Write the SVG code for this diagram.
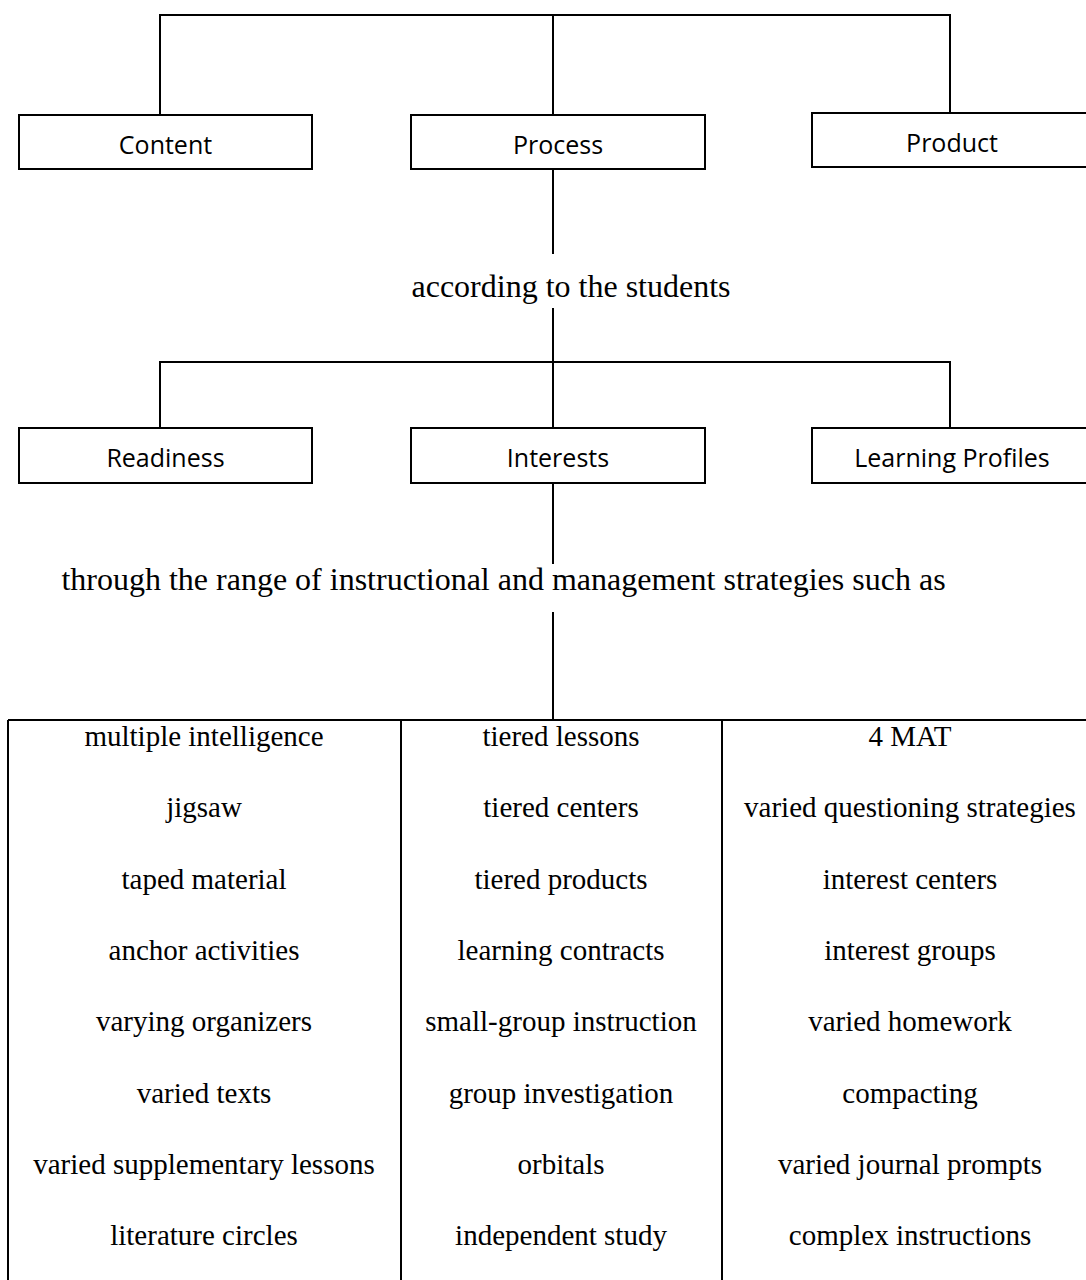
<svg xmlns="http://www.w3.org/2000/svg" width="1086" height="1280" viewBox="0 0 1086 1280">
<style>
.box{fill:#fff;stroke:#000;stroke-width:2}
.btxt{font-family:"Open Sans","Noto Sans",sans-serif;font-size:25px;fill:#000;text-anchor:middle}
.lbl{font-family:"Liberation Serif","Times New Roman",serif;font-size:32px;fill:#000;text-anchor:middle}
.cell{font-family:"Liberation Serif","Times New Roman",serif;font-size:29px;fill:#000;text-anchor:middle}
.con line, .con path{stroke:#000;stroke-width:2;fill:none}
.grid line{stroke:#000;stroke-width:2}
</style>
<rect width="1086" height="1280" fill="#fff"/>
<g id="connectors" class="con">
<path d="M160 115 V15 H950 V113"/>
<line x1="553" y1="15" x2="553" y2="115"/>
<line x1="553" y1="169" x2="553" y2="254"/>
<path d="M160 428 V362 H950 V428"/>
<line x1="553" y1="308" x2="553" y2="428"/>
<line x1="553" y1="483" x2="553" y2="564"/>
<line x1="553" y1="612" x2="553" y2="720"/>
</g>
<g id="content"><rect class="box" x="19" y="115" width="293" height="54"/><text class="btxt" x="165.5" y="154">Content</text></g>
<g id="process"><rect class="box" x="411" y="115" width="294" height="54"/><text class="btxt" x="558" y="154">Process</text></g>
<g id="product"><rect class="box" x="812" y="113" width="284" height="54"/><text class="btxt" x="952" y="152">Product</text></g>
<g id="according"><text class="lbl" x="571" y="297">according to the students</text></g>
<g id="readiness"><rect class="box" x="19" y="428" width="293" height="55"/><text class="btxt" x="165.5" y="467">Readiness</text></g>
<g id="interests"><rect class="box" x="411" y="428" width="294" height="55"/><text class="btxt" x="558" y="467">Interests</text></g>
<g id="profiles"><rect class="box" x="812" y="428" width="284" height="55"/><text class="btxt" x="952" y="467">Learning Profiles</text></g>
<g id="through"><text class="lbl" x="503.5" y="590">through the range of instructional and management strategies such as</text></g>
<g id="strategies">
<g class="grid">
<line x1="8" y1="720" x2="1100" y2="720"/>
<line x1="8" y1="720" x2="8" y2="1290"/>
<line x1="401" y1="720" x2="401" y2="1290"/>
<line x1="722" y1="720" x2="722" y2="1290"/>
</g>
<g class="cell">
<text x="204" y="746">multiple intelligence</text>
<text x="204" y="817">jigsaw</text>
<text x="204" y="889">taped material</text>
<text x="204" y="960">anchor activities</text>
<text x="204" y="1031">varying organizers</text>
<text x="204" y="1103">varied texts</text>
<text x="204" y="1174">varied supplementary lessons</text>
<text x="204" y="1245">literature circles</text>
<text x="561" y="746">tiered lessons</text>
<text x="561" y="817">tiered centers</text>
<text x="561" y="889">tiered products</text>
<text x="561" y="960">learning contracts</text>
<text x="561" y="1031">small-group instruction</text>
<text x="561" y="1103">group investigation</text>
<text x="561" y="1174">orbitals</text>
<text x="561" y="1245">independent study</text>
<text x="910" y="746">4 MAT</text>
<text x="910" y="817">varied questioning strategies</text>
<text x="910" y="889">interest centers</text>
<text x="910" y="960">interest groups</text>
<text x="910" y="1031">varied homework</text>
<text x="910" y="1103">compacting</text>
<text x="910" y="1174">varied journal prompts</text>
<text x="910" y="1245">complex instructions</text>
</g>
</g>
</svg>
